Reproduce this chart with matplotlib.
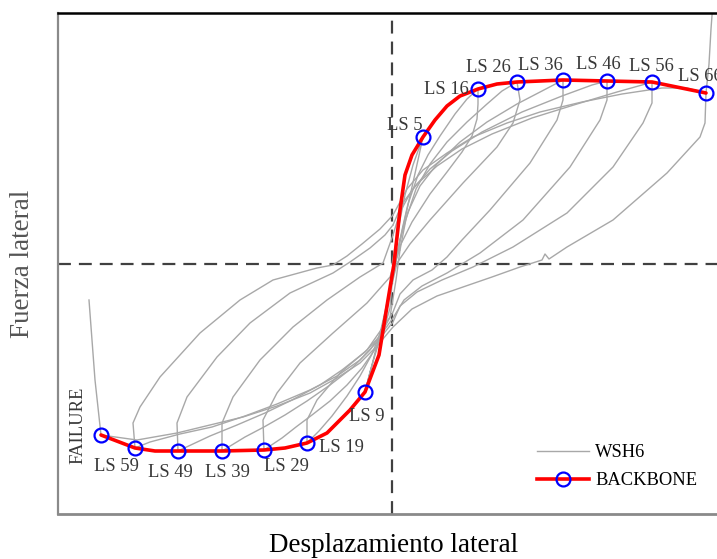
import matplotlib
matplotlib.use("Agg")
import matplotlib.pyplot as plt

plt.rcParams['font.family'] = ['Liberation Serif', 'DejaVu Serif']

# --- backbone (envelope) -------------------------------------------------
bb_labels = ['FAILURE', 'LS 59', 'LS 49', 'LS 39', 'LS 29', 'LS 19', 'LS 9',
             'LS 5', 'LS 16', 'LS 26', 'LS 36', 'LS 46', 'LS 56', 'LS 66']
bb_disp = [-291, -257, -214, -170, -128, -85, -27, 31, 86, 125, 171, 215, 260, 314]
bb_force = [-171, -184, -187, -187, -186, -179, -128, 127, 175, 182, 184, 183, 182, 171]

# backbone trace
env_disp = [-291, -257, -237, -214, -170, -128, -107, -85, -65, -42, -27, -13, -4, 2,
            8, 13, 20, 31, 43, 55, 68, 86, 105, 125, 171, 215, 260, 314]
env_force = [-171, -184, -187, -187, -187, -186, -184, -179, -169, -146, -128, -91, -36, 0,
             54, 89, 109, 127, 144, 158, 168, 175, 180, 182, 184, 183, 182, 171]

# --- hysteresis WSH6, one array pair per cycle -----------------------------
c1_disp = [0, 6, 13, 21, 31, 26, 16, 6, -2, -6, -14, -22, -27, -20, -10, -1, 5]
c1_force = [0, 34, 69, 99, 127, 104, 59, 14, -26, -46, -81, -108, -128, -101, -61, -21, 9]

c2_disp = [5, 10, 16, 26, 36, 48, 63, 75, 86,
           86, 85, 80, 70, 55, 38, 20, 8, 2, -2, -4,
           -10, -20, -32, -45, -60, -73, -85,
           -85, -75, -52, -25, -2, 4, 8]
c2_force = [9, 34, 60, 89, 109, 128, 150, 165, 175,
            160, 145, 128, 112, 92, 70, 42, 18, -5, -25, -41,
            -65, -90, -112, -132, -152, -167, -179,
            -156, -136, -109, -86, -53, -16, 14]

c3_disp = [8, 14, 24, 38, 55, 75, 95, 110, 125,
           128, 121, 105, 71, 38, 18, 5, 0, -2,
           -8, -16, -30, -45, -62, -80, -96, -110, -128,
           -129, -115, -92, -59, -25, -2, 5, 8]
c3_force = [14, 45, 75, 100, 122, 142, 160, 173, 182,
            164, 141, 117, 81, 44, 20, 1, -20, -44,
            -65, -84, -104, -121, -137, -151, -163, -174, -186,
            -156, -129, -99, -69, -39, -13, 8, 24]

c4_disp = [8, 16, 28, 45, 68, 95, 125, 150, 171,
           171, 165, 138, 98, 70, 55, 40, 21, 8, 1,
           -10, -22, -40, -62, -85, -107, -128, -147, -170,
           -170, -159, -132, -99, -65, -32, -9, 1]
c4_force = [24, 52, 78, 100, 122, 142, 160, 173, 184,
            164, 144, 101, 54, 24, 7, -6, -16, -30, -48,
            -68, -86, -104, -121, -137, -151, -163, -173, -187,
            -159, -133, -96, -63, -36, -13, 1, 29]

c5_disp = [1, 8, 20, 38, 60, 90, 130, 170, 200, 215,
           215, 208, 178, 131, 88, 55, 30, 12, 1,
           -12, -27, -50, -72, -100, -127, -155, -182, -214,
           -215, -205, -175, -142, -102, -59, -42, -22, -7, 1]
c5_force = [29, 52, 74, 95, 113, 132, 152, 168, 179, 183,
            164, 144, 97, 44, 11, -9, -22, -36, -54,
            -72, -88, -106, -121, -136, -149, -161, -172, -187,
            -159, -133, -93, -59, -29, -9, 2, 16, 29, 39]

c6_disp = [1, 10, 25, 45, 70, 100, 140, 185, 225, 250, 260,
           260, 251, 221, 175, 121, 81, 50, 25, 8, 1,
           -15, -32, -55, -82, -115, -147, -180, -212, -242, -257,
           -259, -252, -232, -192, -152, -119, -75, -59, -45, -30, -12, 1]
c6_force = [39, 60, 80, 98, 115, 130, 146, 160, 172, 179, 182,
            161, 141, 97, 51, 17, -3, -16, -28, -42, -58,
            -78, -96, -112, -126, -140, -152, -163, -170, -178, -184,
            -159, -143, -113, -69, -36, -16, -4, -1, 8, 20, 35, 49]

c7_disp = [1, 15, 31, 55, 81, 115, 148, 190, 230, 270, 295, 314,
           313, 308, 275, 221, 175, 157, 153, 150, 128, 100, 71, 45, 20, 1,
           -15, -32, -55, -82, -115, -149, -182, -215, -255, -291, -297, -303]
c7_force = [49, 75, 94, 111, 127, 141, 152, 162, 170, 176, 176, 171,
            141, 127, 91, 44, 17, 5, 10, 4, -3, -13, -23, -32, -45, -63,
            -82, -99, -114, -129, -142, -153, -161, -169, -176, -171, -116, -36]

# branch running off the top at the far right
tail_disp = [314, 317, 319, 321]
tail_force = [171, 200, 235, 262]

cycles = [(c1_disp, c1_force), (c2_disp, c2_force), (c3_disp, c3_force),
          (c4_disp, c4_force), (c5_disp, c5_force), (c6_disp, c6_force),
          (c7_disp, c7_force), (tail_disp, tail_force)]

# label offsets (points) from each backbone marker
label_offsets = [(-16.6, 7.2), (-13.7, -13), (-5.8, -15.8), (3.6, -15.8), (15.8, -12.2),
                 (24.5, -3.6), (1.4, -17.3), (-13, 8.6), (-23, -0.7), (-20.9, 10.1),
                 (-16.6, 10.8), (-6.5, 12.2), (-0.7, 11.5), (-4.3, 12.2)]

fig = plt.figure(figsize=(7.17, 5.59), dpi=100)
ax = fig.add_axes([58 / 717, 45 / 559, (732 - 58) / 717, 501 / 559])
ax.set_xlim(-334, 340)
ax.set_ylim(-250, 251)

grey = '#a8a8a8'
for i, (d, f) in enumerate(cycles):
    ax.plot(d, f, color=grey, lw=1.0, solid_joinstyle='round',
            label='WSH6' if i == 0 else None, zorder=2)

ax.axvline(0, color='#404040', lw=1.6, ls=(0, (5.8, 3.6)), zorder=1)
ax.axhline(0, color='#404040', lw=1.6, ls=(0, (5.8, 3.6)), zorder=1)

ax.plot(env_disp, env_force, color='red', lw=2.6, solid_joinstyle='round',
        solid_capstyle='round', zorder=3)
ax.plot(bb_disp, bb_force, ls='none', marker='o', ms=10, mfc='none', mec='blue',
        mew=1.6, zorder=4)
# legend proxy
ax.plot([], [], color='red', lw=2.6, marker='o', ms=10, mfc='none', mec='blue',
        mew=1.6, label='BACKBONE')

for lab, x, y, off in zip(bb_labels, bb_disp, bb_force, label_offsets):
    ax.annotate(lab, (x, y), xytext=off, textcoords='offset points',
                ha='center', va='center', fontsize=13.4, color='#383838',
                rotation=90 if lab == 'FAILURE' else 0)

leg = ax.legend(loc='upper left', bbox_to_anchor=(537 / 717, 1 - 444 / 559),
                bbox_transform=fig.transFigure, frameon=False, fontsize=13.3,
                handlelength=2.8, handletextpad=0.35, labelspacing=0.6,
                borderpad=0, borderaxespad=0, numpoints=1)

ax.set_xticks([])
ax.set_yticks([])
ax.spines['top'].set_color('black')
ax.spines['top'].set_linewidth(1.8)
ax.spines['left'].set_color('#8a8a8a')
ax.spines['left'].set_linewidth(1.6)
ax.spines['bottom'].set_color('#8a8a8a')
ax.spines['bottom'].set_linewidth(2.0)

fig.text(394 / 717, 1 - 546 / 559, 'Desplazamiento lateral', ha='center', va='center',
         fontsize=19.5, color='black')
fig.text(23 / 717, 1 - 264 / 559, 'Fuerza lateral', ha='center', va='center',
         rotation=90, fontsize=19.5, color='#555555')

fig.savefig('out.png', dpi=100)
